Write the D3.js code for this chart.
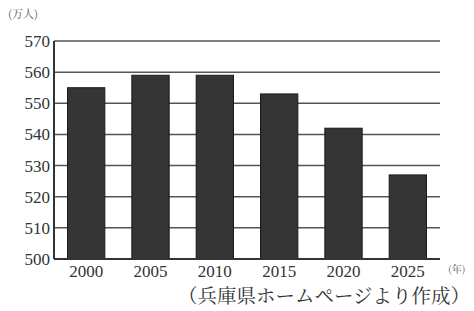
<!DOCTYPE html>
<html>
<head>
<meta charset="utf-8">
<script src="https://cdn.jsdelivr.net/npm/d3@7"></script>
<style>
  body { margin: 0; background: #fff; }
</style>
</head>
<body>
<script>
let width = 474, height = 311;

// data
const years = ["2000", "2005", "2010", "2015", "2020", "2025"];
const population = [555, 559, 559, 553, 542, 527];
const yTicks = [500, 510, 520, 530, 540, 550, 560, 570];

const margin = {left: 54, right: 34, top: 41, bottom: 52};
const serif = "Liberation Serif, Times New Roman, Tinos, DejaVu Serif, Noto Serif, Noto Serif CJK JP, serif";
const cjk = "Noto Serif CJK JP, Noto Sans CJK JP, sans-serif";

const svg = d3.select("body").append("svg")
    .attr("width", width)
    .attr("height", height);

const x = d3.scaleBand()
    .domain(years)
    .range([margin.left, width - margin.right])
    .paddingInner(0.42)
    .paddingOuter(0.21);

const y = d3.scaleLinear()
    .domain([500, 570])
    .range([height - margin.bottom, margin.top]);

// gridlines
svg.append("g")
    .selectAll("line")
    .data(yTicks)
    .enter().append("line")
    .attr("x1", margin.left)
    .attr("x2", width - margin.right)
    .attr("y1", d => y(d))
    .attr("y2", d => y(d))
    .attr("stroke", "#555")
    .attr("stroke-width", 1.5);

// bars
svg.append("g")
    .selectAll("rect")
    .data(population)
    .enter().append("rect")
    .attr("x", (d, i) => x(years[i]))
    .attr("y", d => y(d))
    .attr("width", x.bandwidth())
    .attr("height", d => y(500) - y(d))
    .attr("fill", "#353535")
    .attr("stroke", "#1a1a1a")
    .attr("stroke-width", 1);

// axes lines
svg.append("line")
    .attr("x1", margin.left).attr("x2", margin.left)
    .attr("y1", y(570)).attr("y2", y(500))
    .attr("stroke", "#333").attr("stroke-width", 2);
svg.append("line")
    .attr("x1", margin.left).attr("x2", width - margin.right)
    .attr("y1", y(500)).attr("y2", y(500))
    .attr("stroke", "#333").attr("stroke-width", 2);

// y labels
svg.append("g")
    .selectAll("text")
    .data(yTicks)
    .enter().append("text")
    .attr("x", margin.left - 4)
    .attr("y", d => y(d))
    .attr("dy", "0.35em")
    .attr("text-anchor", "end")
    .style("font-family", serif)
    .attr("font-size", 17)
    .attr("fill", "#333")
    .text(d => d);

// x labels
svg.append("g")
    .selectAll("text")
    .data(years)
    .enter().append("text")
    .attr("x", d => x(d) + x.bandwidth() / 2)
    .attr("y", y(500) + 18)
    .attr("text-anchor", "middle")
    .style("font-family", serif)
    .attr("font-size", 17)
    .attr("fill", "#333")
    .text(d => d);

// units
svg.append("text")
    .attr("x", 8).attr("y", 18)
    .style("font-family", cjk)
    .attr("font-size", 11)
    .attr("fill", "#555")
    .text("(万人)");

svg.append("text")
    .attr("x", 448).attr("y", 273)
    .style("font-family", cjk)
    .attr("font-size", 10)
    .attr("fill", "#555")
    .text("(年)");

// source
svg.append("text")
    .attr("x", 470).attr("y", 303)
    .attr("text-anchor", "end")
    .style("font-family", cjk)
    .attr("font-size", 19.5)
    .attr("fill", "#333")
    .text("（兵庫県ホームページより作成）");
</script>
</body>
</html>
